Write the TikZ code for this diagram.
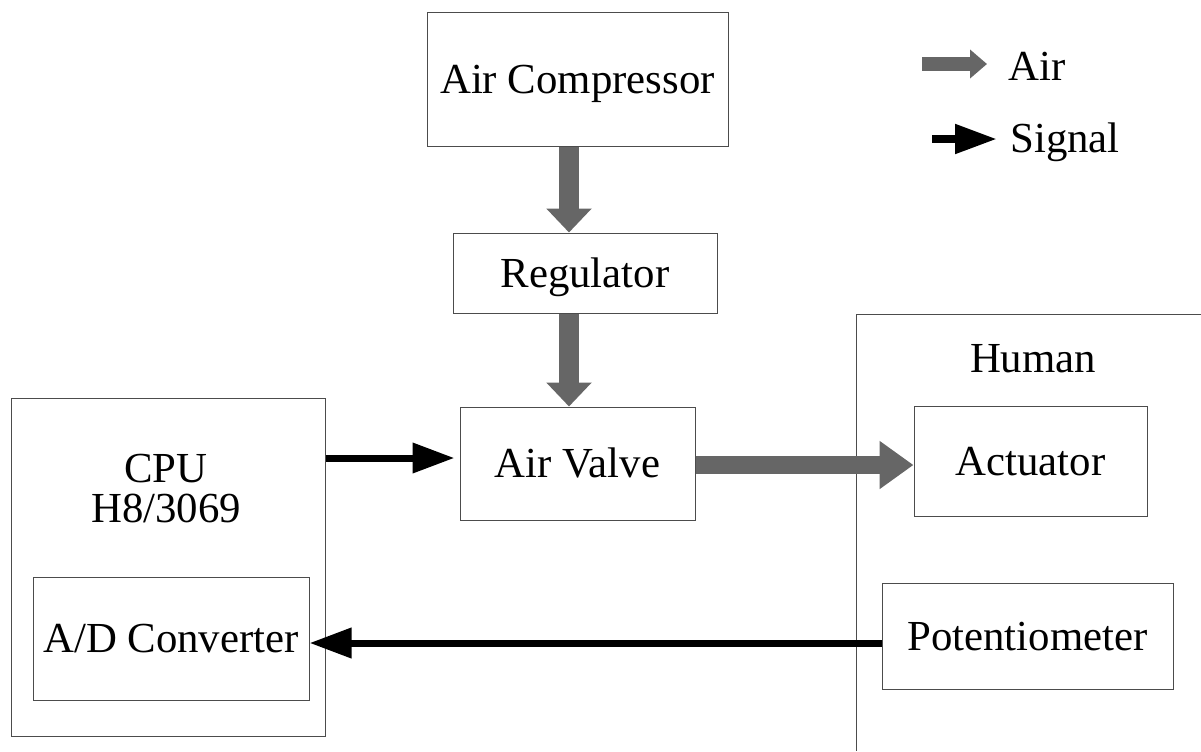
\documentclass[tikz,border=0pt]{standalone}
\usepackage{fontspec}
\setmainfont{Liberation Serif}
\usetikzlibrary{arrows.meta}
\begin{document}
\begin{tikzpicture}[x=0.5pt,y=-0.5pt,
  box/.style={draw=black!70, line width=0.5pt, inner sep=0pt, text height=14.2pt, text depth=0pt, font=\fontsize{21.4}{26}\selectfont},
  boxline/.style={draw=black!70, line width=0.5pt},
  lbl/.style={inner sep=0pt, font=\fontsize{21.4}{26}\selectfont},
  airv/.style={draw=black!60, line width=10pt, -{Triangle[length=12pt,width=22pt]}},
  airh/.style={draw=black!60, line width=9pt, -{Triangle[length=17pt,width=23pt]}},
  sig/.style={draw=black, line width=3.5pt, -{Triangle[length=21pt,width=14.5pt]}},
  airleg/.style={draw=black!60, line width=7pt, -{Triangle[length=8.5pt,width=14pt]}},
  sigleg/.style={draw=black, line width=4pt, -{Triangle[length=21pt,width=14pt]}},
]
\useasboundingbox (0,0) rectangle (1201,751);

% boxes
\node[box, minimum width=150.5pt, minimum height=67pt] (comp) at (577.5,79) {Air Compressor};
\node[box, minimum width=132pt, minimum height=40pt] (reg) at (585,273) {Regulator};
\node[box, minimum width=117.5pt, minimum height=56.5pt] (valve) at (577.5,463.5) {Air Valve};
\node[box, minimum width=157pt, minimum height=169pt] (cpu) at (168,567) {};
\node[box, minimum width=138pt, minimum height=61.5pt] (ad) at (171,638.5) {A/D Converter};
\node[box, minimum width=116.5pt, minimum height=55pt] (act) at (1030.5,461) {Actuator};
\node[box, minimum width=145.5pt, minimum height=53pt] (pot) at (1027.5,636) {Potentiometer};

% labels
\node[lbl, anchor=base] (cpul) at (166,482) {CPU};
\node[lbl, anchor=base] (h8) at (166,522) {H8/3069};
\node[lbl, anchor=base] (huml) at (1033,372) {Human};

% human region
\coordinate (hTR) at (1201,314);
\coordinate (hTL) at (856,314);
\coordinate (hBL) at (856,751);
\draw[boxline] (hTR) -- (hTL) -- (hBL);

% connectors
\coordinate (ax) at (569,0);
\coordinate (ay) at (0,465);
\coordinate (sy1) at (0,458);
\coordinate (sy2) at (0,643);
\draw[airv] (comp.south -| ax) -- (reg.north -| ax);
\draw[airv] (reg.south -| ax) -- (valve.north -| ax);
\draw[airh] (valve.east |- ay) -- (act.west |- ay);
\draw[sig] (cpu.east |- sy1) -- ([xshift=-2.5pt]valve.west |- sy1);
\draw[sig] (pot.west |- sy2) -- (ad.east |- sy2);

% legend
\coordinate (la1) at (922,64);
\coordinate (la2) at (987,64);
\coordinate (ls1) at (932,139);
\coordinate (ls2) at (997,139);
\draw[airleg] (la1) -- (la2);
\draw[sigleg] (ls1) -- (ls2);
\node[lbl, anchor=base west] (lair) at (1008,80) {Air};
\node[lbl, anchor=base west] (lsig) at (1010,152) {Signal};
\end{tikzpicture}
\end{document}
